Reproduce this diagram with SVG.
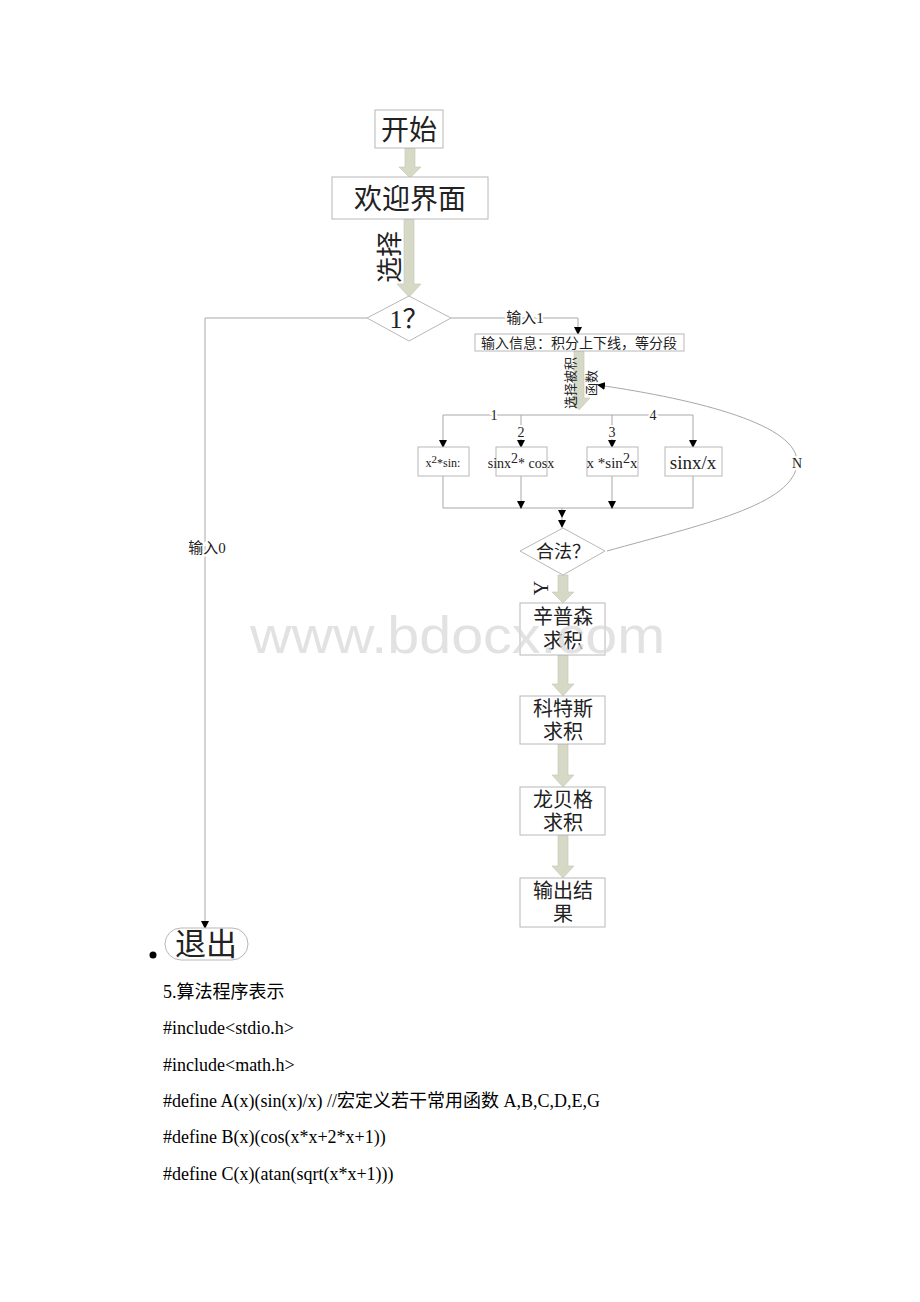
<svg xmlns="http://www.w3.org/2000/svg" width="920" height="1302" viewBox="0 0 920 1302">
<style>
.box{fill:#fff;stroke:#b8b8b8;stroke-width:1}
.ln{fill:none;stroke:#a8a8a8;stroke-width:1}
.fat{fill:#d5d9c6;stroke:#c4c8b4;stroke-width:0.6}
.cj{font-family:"Liberation Serif","Noto Sans CJK SC",serif;fill:#222}
.sm{font-family:"Liberation Serif","Noto Sans CJK SC",serif;fill:#222}
.lbl{paint-order:stroke;stroke:#fff;stroke-width:4}
.code{font-family:"Liberation Serif","Noto Sans CJK SC",serif;fill:#000;font-size:18px}
</style>
<defs>
<marker id="ah" markerWidth="8" markerHeight="8" refX="7" refY="4" orient="auto" markerUnits="userSpaceOnUse">
<path d="M0,0 L8,4 L0,8 z" fill="#000"/>
</marker>
</defs>
<rect width="920" height="1302" fill="#fff"/>

<g id="connectors">
<path class="fat" d="M405,148 L415,148 L415,167 L421,167 L410,178 L399,167 L405,167 z"/>
<path class="fat" d="M404,219 L414,219 L414,284 L421,284 L409,297 L397,284 L404,284 z"/>
<path class="fat" d="M574,351 L584,351 L584,398 L590,398 L579,410 L568,398 L574,398 z"/>
<path class="fat" d="M558,575 L568,575 L568,592 L574,592 L563,603 L552,592 L558,592 z"/>
<path class="fat" d="M558,655 L568,655 L568,684 L574,684 L563,696 L552,684 L558,684 z"/>
<path class="fat" d="M558,744 L568,744 L568,775 L574,775 L563,787 L552,775 L558,775 z"/>
<path class="fat" d="M558,835 L568,835 L568,866 L574,866 L563,878 L552,866 L558,866 z"/>
<path class="ln" d="M367,318 L205,318 L205,928" marker-end="url(#ah)"/>
<path class="ln" d="M451,318 L578,318 L578,334" marker-end="url(#ah)"/>
<path class="ln" d="M443,415 L693,415"/>
<path class="ln" d="M443,415 L443,447" marker-end="url(#ah)"/>
<path class="ln" d="M521,415 L521,447" marker-end="url(#ah)"/>
<path class="ln" d="M612,415 L612,447" marker-end="url(#ah)"/>
<path class="ln" d="M693,415 L693,447" marker-end="url(#ah)"/>
<path class="ln" d="M443,476 L443,508 L693,508 L693,476"/>
<path class="ln" d="M521,476 L521,508" marker-end="url(#ah)"/>
<path class="ln" d="M612,476 L612,508" marker-end="url(#ah)"/>
<path class="ln" d="M562,508 L562,517" marker-end="url(#ah)"/>
<path class="ln" d="M562,517 L562,527" marker-end="url(#ah)"/>
<path class="ln" d="M607,551 C700,525 795,505 797,463 C799,425 700,400 598,385" marker-end="url(#ah)"/>
<text class="sm lbl" x="525" y="323" text-anchor="middle" font-size="15">输入1</text>
<text class="sm lbl" x="207" y="553" text-anchor="middle" font-size="15">输入0</text>
<text class="sm lbl" x="494" y="420" text-anchor="middle" font-size="14">1</text>
<text class="sm lbl" x="653" y="420" text-anchor="middle" font-size="14">4</text>
<text class="sm lbl" x="521" y="437" text-anchor="middle" font-size="14">2</text>
<text class="sm lbl" x="612" y="437" text-anchor="middle" font-size="14">3</text>
<text class="sm lbl" x="797" y="468" text-anchor="middle" font-size="14">N</text>
<text class="cj" font-size="26" text-anchor="middle" transform="translate(399,257) rotate(-90)">选择</text>
<text class="sm" font-size="13" text-anchor="middle" transform="translate(575,383) rotate(-90)">选择被积</text>
<text class="sm" font-size="13" text-anchor="middle" transform="translate(596,383) rotate(-90)">函数</text>
<text class="cj" font-size="20" text-anchor="middle" transform="translate(548,588) rotate(-90)">Y</text>
</g>

<g id="start"><rect class="box" x="375" y="110" width="68" height="38"/><text class="cj" x="409" y="140" font-size="28" text-anchor="middle">开始</text></g>
<g id="welcome"><rect class="box" x="332" y="177" width="156" height="42"/><text class="cj" x="410" y="209" font-size="28" text-anchor="middle">欢迎界面</text></g>
<g id="choice"><polygon class="box" points="409,296 451,318 409,341 367,318"/><text class="cj" x="409" y="328" font-size="26" text-anchor="middle">1？</text></g>
<g id="input"><rect class="box" x="475" y="334" width="209" height="17"/><text class="sm" x="579" y="347.5" font-size="14" text-anchor="middle">输入信息：积分上下线，等分段</text></g>
<g id="f1"><rect class="box" x="418" y="447" width="51" height="29"/><text class="sm" x="443" y="467" font-size="12" text-anchor="middle">x<tspan dy="-4" font-size="11">2</tspan><tspan dy="4">*sin:</tspan></text></g>
<g id="f2"><rect class="box" x="496" y="447" width="51" height="29"/><text class="sm" x="521" y="468" font-size="14" text-anchor="middle">sinx<tspan dy="-5" font-size="14">2</tspan><tspan dy="5">* cosx</tspan></text></g>
<g id="f3"><rect class="box" x="587" y="447" width="51" height="29"/><text class="sm" x="612" y="468" font-size="15" text-anchor="middle">x *sin<tspan dy="-5" font-size="14">2</tspan><tspan dy="5">x</tspan></text></g>
<g id="f4"><rect class="box" x="665" y="447" width="57" height="29"/><text class="sm" x="693" y="469" font-size="19" text-anchor="middle">sinx/x</text></g>
<g id="valid"><polygon class="box" points="563,528 605,551 563,575 520,551"/><text class="cj" x="563" y="558" font-size="18" text-anchor="middle">合法？</text></g>
<g id="simpson"><rect class="box" x="520" y="603" width="85" height="52"/><text class="cj" x="563" y="624" font-size="20" text-anchor="middle">辛普森</text><text class="cj" x="563" y="648" font-size="20" text-anchor="middle">求积</text></g>
<g id="cotes"><rect class="box" x="520" y="696" width="85" height="48"/><text class="cj" x="563" y="716" font-size="20" text-anchor="middle">科特斯</text><text class="cj" x="563" y="739" font-size="20" text-anchor="middle">求积</text></g>
<g id="romberg"><rect class="box" x="520" y="787" width="85" height="48"/><text class="cj" x="563" y="807" font-size="20" text-anchor="middle">龙贝格</text><text class="cj" x="563" y="830" font-size="20" text-anchor="middle">求积</text></g>
<g id="output"><rect class="box" x="520" y="878" width="85" height="49"/><text class="cj" x="563" y="898" font-size="20" text-anchor="middle">输出结</text><text class="cj" x="563" y="921" font-size="20" text-anchor="middle">果</text></g>
<g id="exit"><rect class="box" x="165" y="928" width="83" height="32" rx="16"/><text class="cj" x="206" y="955" font-size="31" text-anchor="middle">退出</text><circle cx="153" cy="955" r="3.5" fill="#000"/></g>

<g id="code">
<text class="code" x="163" y="998">5.算法程序表示</text>
<text class="code" x="163" y="1034">#include&lt;stdio.h&gt;</text>
<text class="code" x="163" y="1071">#include&lt;math.h&gt;</text>
<text class="code" x="163" y="1107">#define A(x)(sin(x)/x) //宏定义若干常用函数 A,B,C,D,E,G</text>
<text class="code" x="163" y="1143">#define B(x)(cos(x*x+2*x+1))</text>
<text class="code" x="163" y="1180">#define C(x)(atan(sqrt(x*x+1)))</text>
</g>

<text x="250" y="653" font-family="Liberation Sans,sans-serif" font-size="52" fill="#d8d8d8" fill-opacity="0.75" textLength="415" lengthAdjust="spacingAndGlyphs">www.bdocx.com</text>
</svg>
